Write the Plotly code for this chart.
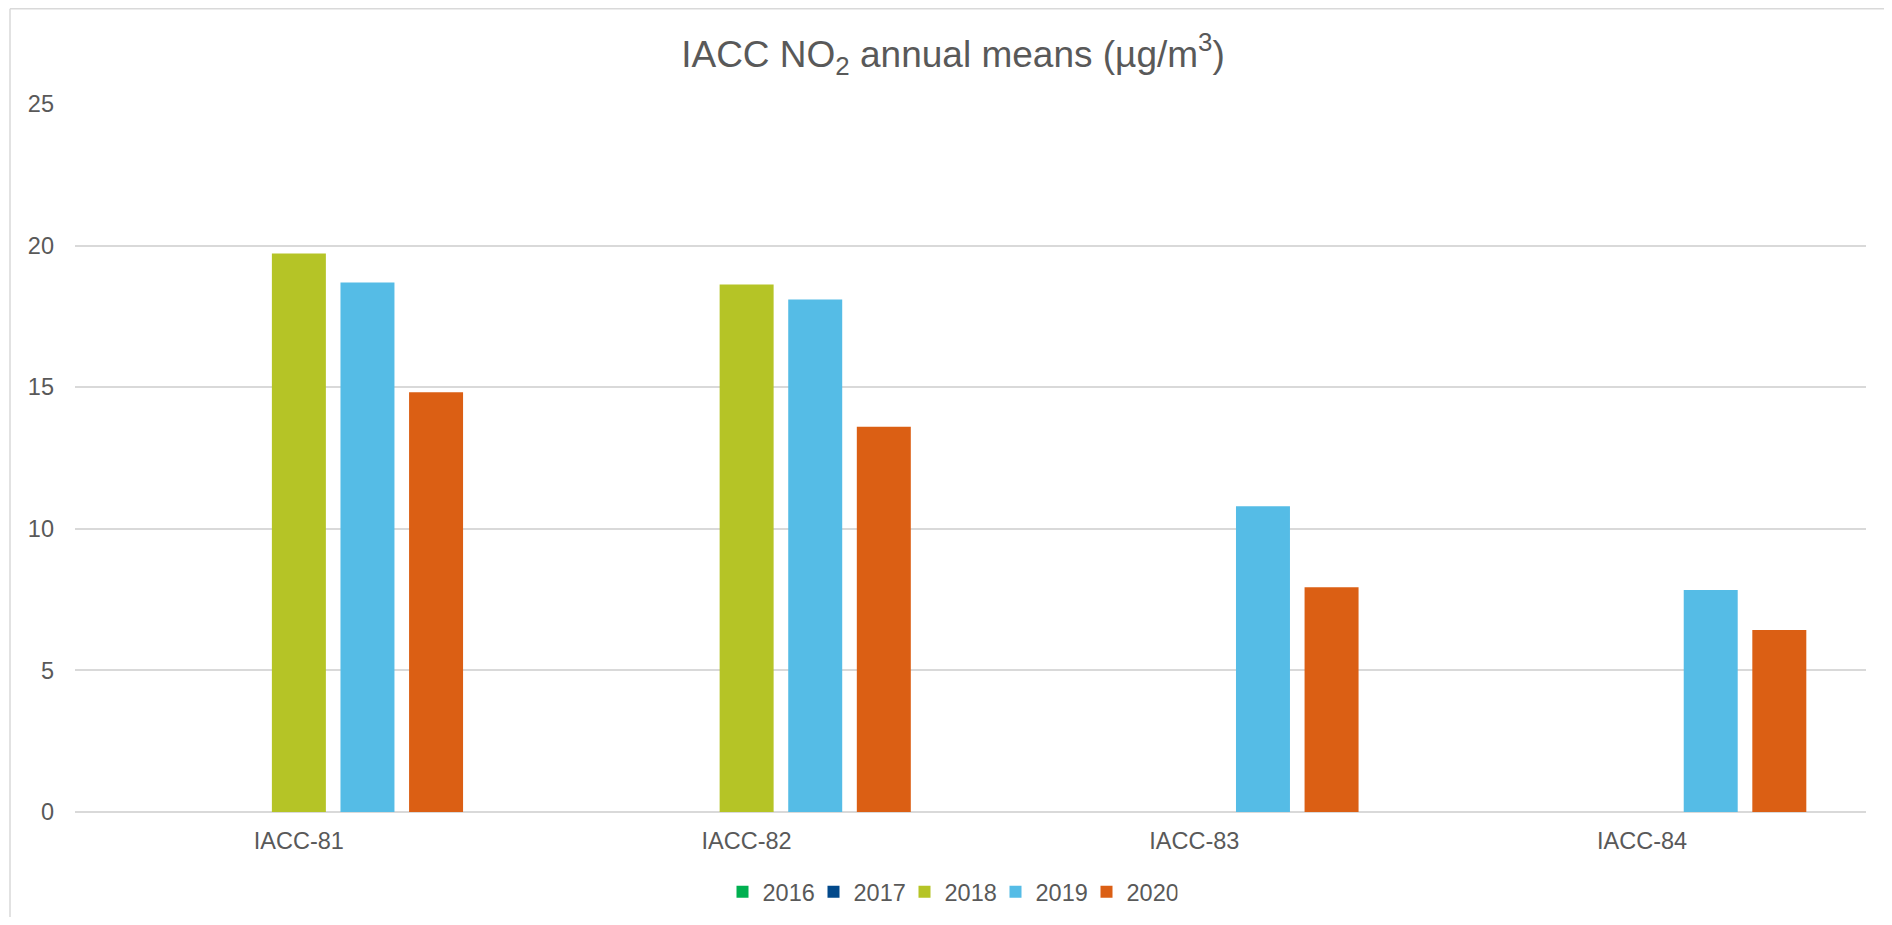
import plotly.graph_objects as go

categories = ["IACC-81", "IACC-82", "IACC-83", "IACC-84"]
years = ["2016", "2017", "2018", "2019", "2020"]
y2016 = [None, None, None, None]
y2017 = [None, None, None, None]
y2018 = [19.72, 18.63, None, None]
y2019 = [18.70, 18.10, 10.80, 7.84]
y2020 = [14.82, 13.60, 7.94, 6.43]
colors = ["#00B050", "#02498B", "#B5C426", "#55BCE6", "#DB5F14"]
yticks = [0, 5, 10, 15, 20, 25]

series = [y2016, y2017, y2018, y2019, y2020]

# page body has an 8px margin; figure coordinates = screen - 8
OFF = 8
W, H = 1892 - 2 * OFF, 925 - 2 * OFF
L, R, T, B = 75 - OFF, 1866 - OFF, 104 - OFF, 812 - OFF

fig = go.Figure()
for name, vals, col in zip(years, series, colors):
    fig.add_trace(go.Bar(x=categories, y=vals, name=name,
                         marker=dict(color=col, line=dict(width=0))))

font = "Liberation Sans, Arial, sans-serif"
grey = "#595959"
grid = "#D9D9D9"


def px2x(px):
    return (px - L) / (R - L)


def py2y(py):
    return (B - py) / (B - T)


fig.update_layout(
    width=W, height=H,
    margin=dict(l=L, r=W - R, t=T, b=H - B, autoexpand=False),
    paper_bgcolor="white", plot_bgcolor="white",
    font=dict(family=font, color=grey, size=23.5),
    title=dict(text="IACC NO<sub>2</sub> annual means (µg/m<sup>3</sup>)",
               x=(953 - OFF) / W, xanchor="center", xref="container",
               y=1 - (54 - OFF) / H, yanchor="middle", yref="container",
               font=dict(size=37, color=grey, family=font)),
    barmode="group", bargap=0.234, bargroupgap=0.213,
    showlegend=True,
    legend=dict(orientation="h", x=px2x(942), xanchor="center", y=py2y(884), yanchor="middle",
                font=dict(size=23.5, color=grey), traceorder="normal",
                entrywidth=46, itemwidth=30, bgcolor="rgba(0,0,0,0)"),
    xaxis=dict(showgrid=False, showline=False, ticks="", tickfont=dict(size=23.5, color=grey),
               zeroline=False, ticklabelstandoff=12),
    yaxis=dict(range=[0, 25], tickvals=yticks, showgrid=True, gridcolor=grid, gridwidth=1.5,
               zeroline=True, zerolinecolor=grid, zerolinewidth=1.5, showline=False,
               ticks="", tickfont=dict(size=23.5, color=grey), ticklabelstandoff=20),
    shapes=[
        dict(type="line", xref="paper", yref="paper", x0=px2x(2), x1=px2x(W), y0=py2y(0.75), y1=py2y(0.75),
             line=dict(color=grid, width=1.5)),
        dict(type="line", xref="paper", yref="paper", x0=px2x(2), x1=px2x(2), y0=py2y(0.75), y1=py2y(H),
             line=dict(color=grid, width=1.5)),
    ],
)

fig.write_html("out.html")
